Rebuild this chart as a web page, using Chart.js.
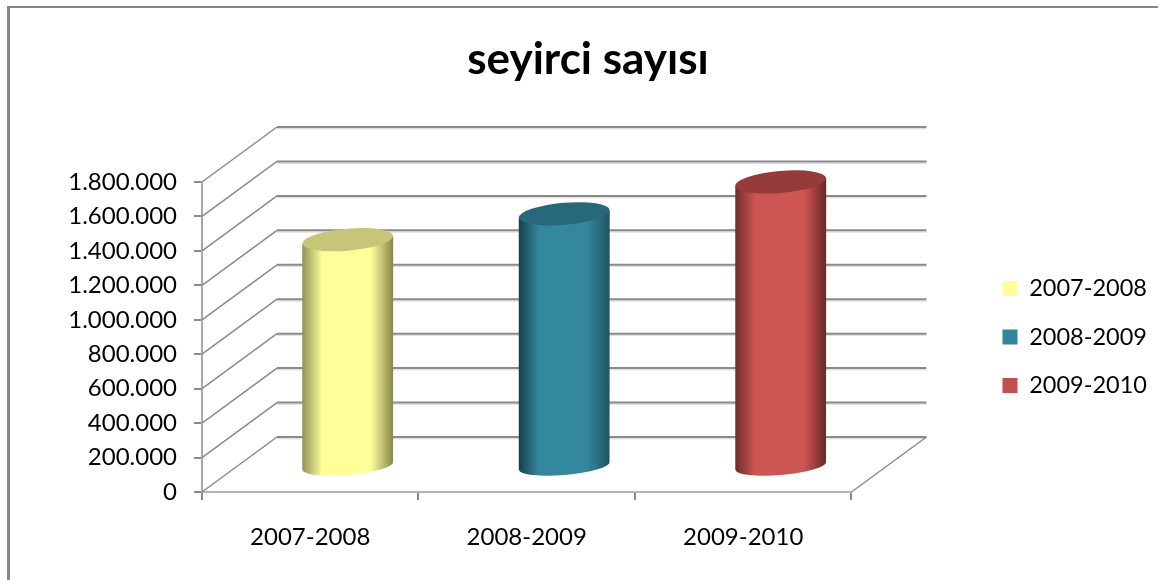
<!DOCTYPE html>
<html>
<head>
<meta charset="utf-8">
<style>
  html, body { margin: 0; background: #fff; }
  canvas { display: block; }
</style>
<script src="https://cdn.jsdelivr.net/npm/chart.js@4"></script>
</head>
<body>
<canvas id="chart" width="1158" height="580"></canvas>
<script>
// data
const categories = ["2007-2008", "2008-2009", "2009-2010"];
const seasons = ["2007-2008", "2008-2009", "2009-2010"];
const viewers2007 = [1320000, null, null];
const viewers2008 = [null, 1470000, null];
const viewers2009 = [null, null, 1655000];
const chartTitle = "seyirci sayısı";

const FONT = "Lato, 'Open Sans', sans-serif";
const GRID = "#8a8a8a";

// depth of the fake 3D box, cylinders stand about halfway in
const DEPTH_X = 75, DEPTH_Y = -55;
const CYL_X = 37.5, CYL_Y = -25;

// colours of each cylinder: [edge left, mid, edge right, top]
const cylColors = [
    ["#8f8f5a", "#ffff99", "#87874f", "#c6c678"],
    ["#163f4d", "#33879f", "#1f5463", "#27687b"],
    ["#6e2c2a", "#cd5653", "#6a2a28", "#953b39"]
];

function drawCylinder(ctx, bar, colors) {
    const cx = bar.x + CYL_X;
    const top = bar.y + CYL_Y;
    const bottom = bar.base + CYL_Y;
    const rx = bar.width / 2;
    const ry = 9;
    const tilt = -0.085;

    const grad = ctx.createLinearGradient(cx - rx, 0, cx + rx, 0);
    grad.addColorStop(0, colors[0]);
    grad.addColorStop(0.22, colors[1]);
    grad.addColorStop(0.5, colors[1]);
    grad.addColorStop(0.75, colors[1]);
    grad.addColorStop(1, colors[2]);

    const dy = Math.sin(tilt) * rx;
    ctx.save();
    ctx.fillStyle = grad;
    ctx.beginPath();
    ctx.moveTo(cx - rx, top - dy);
    ctx.lineTo(cx - rx, bottom - dy);
    ctx.ellipse(cx, bottom, rx, ry, tilt, Math.PI, 0, true);
    ctx.lineTo(cx + rx, top + dy);
    ctx.closePath();
    ctx.fill();

    ctx.fillStyle = colors[3];
    ctx.beginPath();
    ctx.ellipse(cx, top, rx, ry + 2, tilt, 0, Math.PI * 2);
    ctx.fill();
    ctx.restore();
}

const box3d = {
    id: "box3d",
    beforeDatasetsDraw(chart) {
        const { ctx, chartArea, scales } = chart;
        const left = chartArea.left, right = chartArea.right;
        const base = scales.y.getPixelForValue(0);
        ctx.save();

        // outer frame, only left and top show
        ctx.fillStyle = "#868686";
        ctx.fillRect(7, 6, 3, 574);
        ctx.fillRect(7, 6, 1151, 2);

        // wall and back lines for each tick
        scales.y.ticks.forEach(t => {
            const y = scales.y.getPixelForValue(t.value);
            const backY = y + DEPTH_Y;
            ctx.strokeStyle = "#e2e2e2";
            ctx.lineWidth = 1.5;
            ctx.beginPath();
            ctx.moveTo(left + DEPTH_X, backY + 1.7);
            ctx.lineTo(right + DEPTH_X, backY + 1.7);
            ctx.stroke();
            ctx.strokeStyle = GRID;
            ctx.lineWidth = 1.5;
            ctx.beginPath();
            ctx.moveTo(left, y);
            ctx.lineTo(left + DEPTH_X, backY);
            ctx.stroke();
            ctx.lineWidth = 2;
            ctx.beginPath();
            ctx.moveTo(left + DEPTH_X, backY);
            ctx.lineTo(right + DEPTH_X, backY);
            ctx.stroke();
        });

        // floor edge on the right
        ctx.strokeStyle = GRID;
        ctx.lineWidth = 1.5;
        ctx.beginPath();
        ctx.moveTo(right, base);
        ctx.lineTo(right + DEPTH_X, base + DEPTH_Y);
        ctx.stroke();
        ctx.restore();
    },
    beforeDatasetDraw(chart, args) {
        const meta = chart.getDatasetMeta(args.index);
        const values = chart.data.datasets[args.index].data;
        meta.data.forEach((bar, i) => {
            if (values[i] !== null) drawCylinder(chart.ctx, bar, cylColors[args.index]);
        });
        return false;
    }
};

function dataset(label, data, color) {
    return { label: label, data: data, backgroundColor: color, borderWidth: 0 };
}

new Chart(document.getElementById("chart"), {
    type: "bar",
    data: {
        labels: categories,
        datasets: [
            dataset(seasons[0], viewers2007, "#ffff99"),
            dataset(seasons[1], viewers2008, "#31859c"),
            dataset(seasons[2], viewers2009, "#c0504d")
        ]
    },
    plugins: [box3d],
    options: {
        responsive: false,
        animation: false,
        barPercentage: 0.42,
        categoryPercentage: 1,
        layout: { padding: { left: 19, right: 1, top: 0, bottom: 0 } },
        plugins: {
            tooltip: { enabled: false },
            title: {
                display: true,
                text: chartTitle,
                color: "#000",
                font: { family: FONT, size: 44, weight: "bold" },
                padding: { top: 33.6, bottom: 5.6 }
            },
            legend: {
                position: "right",
                fullSize: false,
                labels: {
                    boxWidth: 15,
                    boxHeight: 15,
                    padding: 25,
                    color: "#000",
                    font: { family: FONT, size: 23.5 }
                }
            }
        },
        scales: {
            x: {
                stacked: true,
                afterFit: s => { s.height = 88; },
                grid: { drawOnChartArea: false, color: GRID, lineWidth: 2, tickLength: 8 },
                border: { color: "#b5b5b5", width: 2 },
                ticks: { color: "#000", padding: 23, maxRotation: 0, font: { family: FONT, size: 24 } }
            },
            y: {
                stacked: true,
                min: 0,
                max: 1800000,
                afterFit: s => { s.width = 183; },
                grid: { drawOnChartArea: false, color: GRID, lineWidth: 2, tickLength: 8 },
                border: { color: "#a8a8a8", width: 2 },
                ticks: {
                    stepSize: 200000,
                    color: "#000",
                    padding: 17,
                    font: { family: FONT, size: 24 },
                    callback: v => String(v).replace(/\B(?=(\d{3})+$)/g, ".")
                }
            },
            // empty axes, they only keep room free around the plot
            gapTop: {
                type: "linear",
                axis: "x",
                position: "top",
                afterFit: s => { s.height = 90; },
                grid: { display: false },
                border: { display: false },
                ticks: { display: false }
            },
            gapRight: {
                type: "linear",
                axis: "y",
                position: "right",
                afterFit: s => { s.width = 126; },
                grid: { display: false },
                border: { display: false },
                ticks: { display: false }
            }
        }
    }
});
</script>
</body>
</html>
